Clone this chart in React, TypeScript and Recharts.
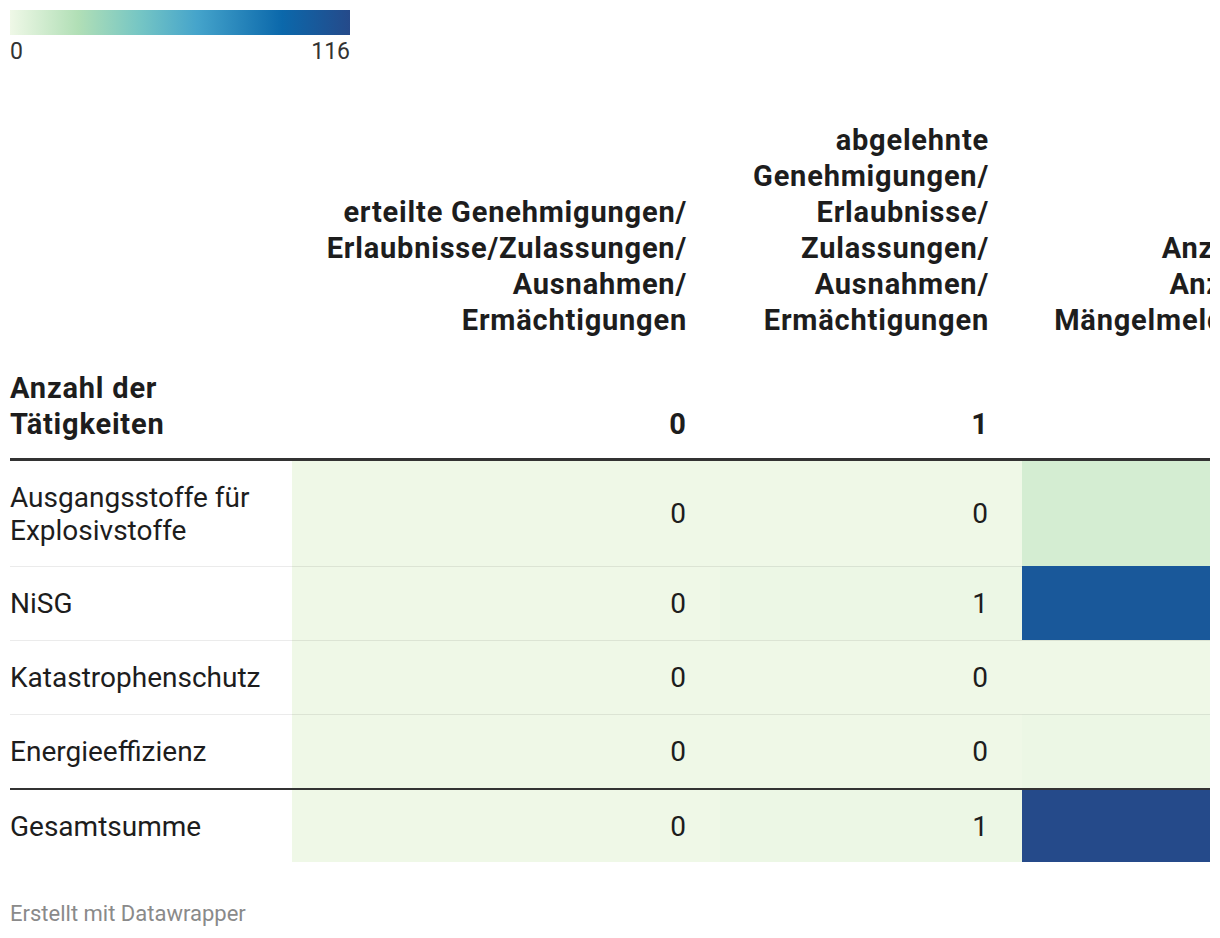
import React from 'react';
import { BarChart, Bar, XAxis, YAxis } from 'recharts';

// ---------- data ----------
const rowLabels: string[][] = [
  ['Ausgangsstoffe für', 'Explosivstoffe'],
  ['NiSG'],
  ['Katastrophenschutz'],
  ['Energieeffizienz'],
];
const totalLabel = 'Gesamtsumme';
const cornerLabel = ['Anzahl der', 'Tätigkeiten'];

const columnTitles: string[][] = [
  ['erteilte Genehmigungen/', 'Erlaubnisse/Zulassungen/', 'Ausnahmen/', 'Ermächtigungen'],
  ['abgelehnte', 'Genehmigungen/', 'Erlaubnisse/', 'Zulassungen/', 'Ausnahmen/', 'Ermächtigungen'],
  ['Anzahl der', 'Anzeigen/', 'Mängelmeldungen'],
];

const erteilt: number[] = [0, 0, 0, 0];
const abgelehnt: number[] = [0, 1, 0, 0];
const anzeigen: number[] = [10, 105, 0, 1];
const columnValues: number[][] = [erteilt, abgelehnt, anzeigen];
const columnTotals: number[] = [0, 1, 116];

const legendMin = 0;
const legendMax = 116;

// ---------- colour scale ----------
const stops: [number, string][] = [
  [0, '#eff8e7'],
  [0.2, '#b1dfb6'],
  [0.38, '#76c6c4'],
  [0.55, '#45a4cb'],
  [0.8, '#0b68ab'],
  [1, '#254a8a'],
];
const hex = (h: string) => [1, 3, 5].map((i) => parseInt(h.slice(i, i + 2), 16));
function colorFor(v: number): string {
  const t = Math.max(0, Math.min(1, (v - legendMin) / (legendMax - legendMin)));
  for (let i = 0; i < stops.length - 1; i++) {
    const [t0, c0] = stops[i];
    const [t1, c1] = stops[i + 1];
    if (t <= t1) {
      const f = (t - t0) / (t1 - t0);
      const a = hex(c0), b = hex(c1);
      const c = a.map((x, k) => Math.round(x + (b[k] - x) * f));
      return `rgb(${c[0]},${c[1]},${c[2]})`;
    }
  }
  return stops[stops.length - 1][1];
}

// ---------- layout ----------
const FONT = 'Roboto, "Noto Sans", sans-serif';
const TEXT = '#1d1d1d';
const colX = [292, 720, 1022];
const colW = [428, 302, 320];
const rowTop = [461, 567, 641, 715];
const rowH = [105, 73, 73, 73];
const totalTop = 790;
const totalH = 72;
const VAL_PAD = 34;
const FS = 28;
const FSB = 29;
const LSB = '0.8px';

function HeatCell({ value, width, height }: { value: number; width: number; height: number }) {
  const data = [{ name: 'c', value }];
  const fill = colorFor(value);
  const dark = value / legendMax > 0.5;
  const bg = (p: any) => (
    <g>
      <rect x={p.x} y={p.y} width={p.width} height={p.height} fill={fill} />
      <text
        x={p.x + p.width - VAL_PAD}
        y={p.y + p.height / 2}
        textAnchor="end"
        dominantBaseline="central"
        fontFamily={FONT}
        fontSize={FS}
        fill={dark ? '#ffffff' : TEXT}
      >
        {p.payload?.value}
      </text>
    </g>
  );
  return (
    <BarChart
      width={width}
      height={height}
      data={data}
      layout="vertical"
      margin={{ top: 0, right: 0, bottom: 0, left: 0 }}
      barCategoryGap={0}
    >
      <XAxis type="number" hide domain={[0, legendMax]} />
      <YAxis type="category" dataKey="name" hide />
      <Bar dataKey="value" isAnimationActive={false} fill="transparent" minPointSize={1} background={bg} />
    </BarChart>
  );
}

const abs = (left: number, top: number, extra: React.CSSProperties = {}): React.CSSProperties => ({
  position: 'absolute',
  left,
  top,
  ...extra,
});

export default function App() {
  const gradient = `linear-gradient(to right, ${stops.map(([t, c]) => `${c} ${t * 100}%`).join(', ')})`;
  return (
    <div style={{ position: 'absolute', left: 0, top: 0, width: 1220, height: 938, background: '#fff', overflow: 'hidden', fontFamily: FONT, color: TEXT }}>
      <div style={{ position: 'absolute', left: 0, top: 0, width: 1210, height: 938, overflow: 'hidden' }}>
        {/* legend */}
        <div style={abs(10, 10, { width: 340, height: 25, background: gradient })} />
        <div style={abs(10, 38, { width: 340, fontSize: 23, lineHeight: '28px', color: '#333', display: 'flex', justifyContent: 'space-between' })}>
          <span>{legendMin}</span>
          <span>{legendMax}</span>
        </div>

        {/* column titles */}
        {columnTitles.map((lines, ci) => (
          <div
            key={'t' + ci}
            style={abs(colX[ci], 320 + 18 - lines.length * 36, {
              width: colW[ci] - VAL_PAD + 1,
              textAlign: 'right',
              fontWeight: 700,
              fontSize: FSB,
              letterSpacing: LSB,
              lineHeight: '36px',
              whiteSpace: 'nowrap',
            })}
          >
            {lines.map((l, i) => (
              <div key={i}>{l}</div>
            ))}
          </div>
        ))}

        {/* corner label */}
        <div style={abs(10, 370, { fontWeight: 700, fontSize: FSB, letterSpacing: LSB, lineHeight: '36px' })}>
          {cornerLabel.map((l, i) => (
            <div key={i}>{l}</div>
          ))}
        </div>
        {/* totals in header */}
        {columnTotals.map((v, ci) => (
          <div key={'h' + ci} style={abs(colX[ci], 406, { width: colW[ci] - VAL_PAD, textAlign: 'right', fontWeight: 700, fontSize: FSB, lineHeight: '36px' })}>
            {v}
          </div>
        ))}

        {/* header rule */}
        <div style={abs(10, 458, { width: 1200, height: 3, background: '#333' })} />

        {/* body rows */}
        {rowLabels.map((lines, ri) => (
          <React.Fragment key={'r' + ri}>
            <div style={abs(10, rowTop[ri], { height: rowH[ri], display: 'flex', flexDirection: 'column', justifyContent: 'center', fontSize: FS, lineHeight: '33px' })}>
              {lines.map((l, i) => (
                <div key={i}>{l}</div>
              ))}
            </div>
            {columnValues.map((vals, ci) => (
              <div key={'c' + ci} style={abs(colX[ci], rowTop[ri] - (ri > 0 ? 1 : 0))}>
                <HeatCell value={vals[ri]} width={colW[ci]} height={rowH[ri] + (ri > 0 ? 1 : 0)} />
              </div>
            ))}
          </React.Fragment>
        ))}

        {/* separators */}
        <div style={abs(10, 566, { width: 1012, height: 1, background: 'rgba(0,0,0,0.08)' })} />
        <div style={abs(10, 640, { width: 1200, height: 1, background: 'rgba(0,0,0,0.08)' })} />
        <div style={abs(10, 714, { width: 1200, height: 1, background: 'rgba(0,0,0,0.08)' })} />
        <div style={abs(10, 788, { width: 1200, height: 2, background: '#333' })} />

        {/* total row */}
        <div style={abs(10, totalTop, { height: totalH, display: 'flex', alignItems: 'center', fontSize: FS })}>{totalLabel}</div>
        {columnTotals.map((v, ci) => (
          <div key={'tc' + ci} style={abs(colX[ci], totalTop)}>
            <HeatCell value={v} width={colW[ci]} height={totalH} />
          </div>
        ))}

        {/* footer */}
        <div style={abs(10, 900, { fontSize: 22, lineHeight: '28px', color: '#8a8a8a' })}>Erstellt mit Datawrapper</div>
      </div>
    </div>
  );
}
